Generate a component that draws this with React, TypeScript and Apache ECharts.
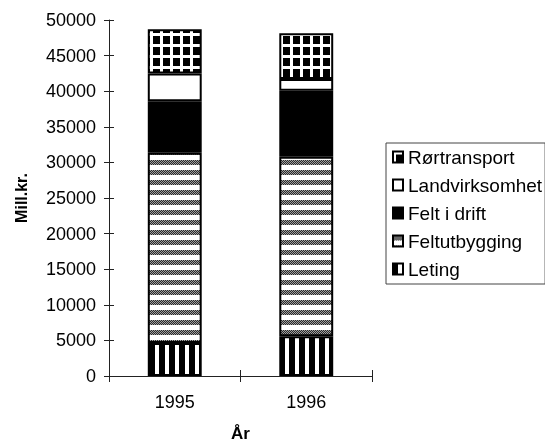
import React, { useEffect, useRef } from 'react';
import * as echarts from 'echarts';

const years = ['1995', '1996'];
const leting = [4650, 5600];
const feltutbygging = [26700, 25200];
const feltIDrift = [7250, 9250];
const landvirksomhet = [3900, 1650];
const rortransport = [6200, 6450];
const yMin = 0;
const yMax = 50000;
const yInterval = 5000;
const legendOrder = ['Rørtransport', 'Landvirksomhet', 'Felt i drift', 'Feltutbygging', 'Leting'];

const FONT = "'Liberation Sans', Arial, Helvetica, sans-serif";

function canvasPattern(w: number, h: number, draw: (ctx: CanvasRenderingContext2D) => void) {
  const c = document.createElement('canvas');
  c.width = w;
  c.height = h;
  const ctx = c.getContext('2d') as CanvasRenderingContext2D;
  draw(ctx);
  return { image: c, repeat: 'repeat' } as any;
}

export default function App() {
  const ref = useRef<HTMLDivElement>(null);
  useEffect(() => {
    if (!ref.current) return;
    const chart = echarts.init(ref.current, undefined, { renderer: 'svg' });

    const letingPat = canvasPattern(10, 10, (ctx) => {
      ctx.fillStyle = '#000';
      ctx.fillRect(0, 0, 10, 10);
      ctx.fillStyle = '#fff';
      ctx.fillRect(5, 0, 4, 10);
    });
    const utbygPat = canvasPattern(4, 10, (ctx) => {
      ctx.fillStyle = '#fff';
      ctx.fillRect(0, 0, 4, 10);
      for (let y = 0; y < 5; y++) {
        for (let x = 0; x < 4; x++) {
          ctx.fillStyle = (x + y) % 2 ? '#2a2a2a' : '#a0a0a0';
          ctx.fillRect(x, y, 1, 1);
        }
      }
    });
    const rorPat = canvasPattern(10, 11, (ctx) => {
      ctx.fillStyle = '#000';
      ctx.fillRect(0, 0, 10, 11);
      ctx.fillStyle = '#fff';
      ctx.fillRect(0, 0, 3, 11);
      ctx.fillRect(0, 0, 10, 3);
    });

    const mk = (name: string, data: number[], color: any) => ({
      name,
      type: 'bar',
      stack: 'total',
      barWidth: '41%',
      data,
      silent: true,
      itemStyle: { color, borderColor: '#000', borderWidth: 2 },
    });

    chart.setOption({
      animation: false,
      textStyle: { fontFamily: FONT },
      grid: { left: 109, right: 173, top: 20, bottom: 67, outerBoundsMode: 'none', containLabel: false },
      legend: {
        data: legendOrder,
        orient: 'vertical',
        left: 386,
        top: 143,
        padding: [4, 3, 5, 6],
        itemGap: 8,
        itemWidth: 10,
        itemHeight: 11,
        icon: 'rect',
        borderColor: '#444',
        borderWidth: 1,
        selectedMode: false,
        textStyle: { fontFamily: FONT, fontSize: 19, color: '#000', lineHeight: 20 },
      },
      xAxis: [
        {
          type: 'category',
          data: years,
          position: 'bottom',
          name: 'År',
          nameLocation: 'middle',
          nameGap: 49,
          nameTextStyle: { fontFamily: FONT, fontSize: 17, fontWeight: 'bold', color: '#000' },
          axisLine: { lineStyle: { color: '#222', width: 1 } },
          axisTick: { show: true, length: 6, lineStyle: { color: '#222' } },
          axisLabel: { fontFamily: FONT, fontSize: 18, color: '#000', margin: 17 },
        },
        {
          type: 'category',
          data: years,
          position: 'bottom',
          axisLine: { show: false },
          axisTick: { show: true, inside: true, length: 6, lineStyle: { color: '#222' } },
          axisLabel: { show: false },
        },
      ],
      yAxis: [
        {
          type: 'value',
          min: yMin,
          max: yMax,
          interval: yInterval,
          position: 'left',
          name: 'Mill.kr.',
          nameLocation: 'middle',
          nameGap: 80,
          nameTextStyle: { fontFamily: FONT, fontSize: 16, fontWeight: 'bold', color: '#000' },
          splitLine: { show: false },
          axisLine: { show: true, lineStyle: { color: '#222', width: 1 } },
          axisTick: { show: true, length: 5, lineStyle: { color: '#222' } },
          axisLabel: {
            fontFamily: FONT,
            fontSize: 18,
            color: '#000',
            margin: 13,
            formatter: (v: number) => String(v),
          },
        },
        {
          type: 'value',
          min: yMin,
          max: yMax,
          interval: yInterval,
          position: 'left',
          splitLine: { show: false },
          axisLine: { show: false },
          axisTick: { show: true, inside: true, length: 5, lineStyle: { color: '#222' } },
          axisLabel: { show: false },
        },
      ],
      series: [
        mk('Leting', leting, letingPat),
        mk('Feltutbygging', feltutbygging, utbygPat),
        mk('Felt i drift', feltIDrift, '#000'),
        mk('Landvirksomhet', landvirksomhet, '#fff'),
        mk('Rørtransport', rortransport, rorPat),
      ],
    });
    return () => chart.dispose();
  }, []);
  return <div ref={ref} style={{ position: 'fixed', left: 0, top: 0, width: 545, height: 443 }} />;
}
